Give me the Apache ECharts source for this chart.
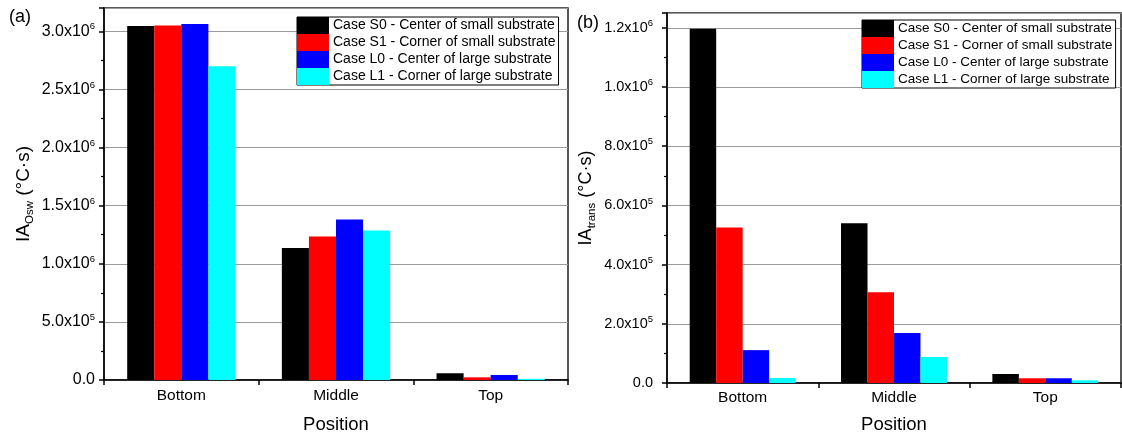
<!DOCTYPE html>
<html>
<head>
<meta charset="utf-8">
<script src="https://cdn.jsdelivr.net/npm/echarts@6/dist/echarts.min.js"></script>
<style>
html,body{margin:0;padding:0;background:#fff;}
#chart{width:1122px;height:434px;}
</style>
</head>
<body>
<div id="chart"></div>
<script>
// ---- data ----
const positions = ['Bottom', 'Middle', 'Top'];
const seriesNames = [
  'Case S0 - Center of small substrate',
  'Case S1 - Corner of small substrate',
  'Case L0 - Center of large substrate',
  'Case L1 - Corner of large substrate'
];
// panel (a) IA_Osw (°C·s)
const iaOswS0 = [3.045e6, 1.135e6, 5.8e4];
const iaOswS1 = [3.050e6, 1.235e6, 2.3e4];
const iaOswL0 = [3.063e6, 1.380e6, 4.3e4];
const iaOswL1 = [2.700e6, 1.285e6, 1.0e4];
// panel (b) IA_trans (°C·s)
const iaTransS0 = [1.197e6, 5.40e5, 3.05e4];
const iaTransS1 = [5.25e5, 3.07e5, 1.6e4];
const iaTransL0 = [1.11e5, 1.69e5, 1.6e4];
const iaTransL1 = [1.7e4, 8.8e4, 9.0e3];
const panelLabels = ['(a)', '(b)'];
const yNames = [['IA', 'Osw'], ['IA', 'trans']];
const unitText = ' (°C·s)';

const colors = ['#000000', '#ff0000', '#0000ff', '#00ffff'];
const FONT = 'Liberation Sans, Arial, sans-serif';

function sciLabel(interval) {
  return function (v) {
    if (Math.abs(v / interval - Math.round(v / interval)) > 1e-6) return '';
    if (v === 0) return '{m|0.0}';
    const e = Math.floor(Math.log10(v) + 1e-9);
    const m = (v / Math.pow(10, e)).toFixed(1);
    return '{m|' + m + 'x10}{s|' + e + '}';
  };
}

const chart = echarts.init(document.getElementById('chart'), null, {renderer: 'canvas'});

const grids = [
  {left: 104, top: 8, width: 464, height: 372},
  {left: 667, top: 13, width: 454, height: 370}
];
const yMax = [3.2e6, 1.25e6];
const yInt = [5e5, 2e5];
const tickFont = [16, 14.5];
const tickMargin = [9, 14];
const nameFont = [19, 18];
const xNameGap = [35, 32];
const xLabelMargin = [8, 7];

const xAxes = grids.map((g, i) => ({
  type: 'category', gridIndex: i, data: positions,
  name: 'Position', nameLocation: 'middle', nameGap: xNameGap[i],
  nameTextStyle: {fontFamily: FONT, fontSize: 18.5, color: '#000'},
  axisLine: {lineStyle: {color: '#000', width: 1.5}},
  axisTick: {show: true, length: 5, lineStyle: {color: '#000', width: 1.5}},
  axisLabel: {fontFamily: FONT, fontSize: 15.5, color: '#000', margin: xLabelMargin[i]},
  splitLine: {show: false}
}));

const yAxes = grids.map((g, i) => ({
  type: 'value', gridIndex: i, min: 0, max: yMax[i], interval: yInt[i],
  name: '{a|' + yNames[i][0] + '}{b|' + yNames[i][1] + '}{a|' + unitText + '}',
  nameLocation: 'middle', nameGap: i === 0 ? 68 : 69, nameRotate: 90,
  nameTextStyle: {
    rich: {
      a: {fontFamily: FONT, fontSize: nameFont[i], color: '#000', lineHeight: 24},
      b: {fontFamily: FONT, fontSize: 11.5, color: '#000', verticalAlign: 'bottom', lineHeight: 14}
    }
  },
  axisLine: {show: true, lineStyle: {color: '#000', width: 1.5}},
  axisTick: {show: true, length: 5, lineStyle: {color: '#000', width: 1.5}},
  minorTick: {show: true, splitNumber: 2, length: 3, lineStyle: {color: '#000', width: 1.2}},
  axisLabel: {
    margin: tickMargin[i],
    formatter: sciLabel(yInt[i]),
    rich: {
      m: {fontFamily: FONT, fontSize: tickFont[i], color: '#000', lineHeight: 19},
      s: {fontFamily: FONT, fontSize: 9.5, color: '#000', verticalAlign: 'top', lineHeight: 10}
    }
  },
  splitLine: {show: true, lineStyle: {color: '#9a9a9a', width: 1}}
}));

const dataA = [iaOswS0, iaOswS1, iaOswL0, iaOswL1];
const dataB = [iaTransS0, iaTransS1, iaTransL0, iaTransL1];
const series = [];
[dataA, dataB].forEach((set, gi) => {
  set.forEach((vals, si) => {
    series.push({
      type: 'bar', name: seriesNames[si], xAxisIndex: gi, yAxisIndex: gi,
      data: vals, barGap: '0%', barCategoryGap: '30%',
      itemStyle: {color: colors[si]}, silent: true
    });
  });
});

function legendFor(left, top, fs) {
  return {
    orient: 'vertical', itemWidth: 32, itemHeight: 17, itemGap: 0,
    icon: 'rect', backgroundColor: '#fff', borderColor: '#000', borderWidth: 1,
    padding: [0, 3, 0, 0], selectedMode: false,
    left: left, top: top,
    textStyle: {fontFamily: FONT, fontSize: fs, color: '#000', padding: [0, 0, 0, -1], lineHeight: 17},
    data: seriesNames
  };
}

chart.setOption({
  animation: false,
  backgroundColor: '#fff',
  color: colors,
  title: [
    {text: panelLabels[0], left: 4, top: 3, textStyle: {fontFamily: FONT, fontSize: 18, fontWeight: 'normal', color: '#000'}},
    {text: panelLabels[1], left: 572, top: 9, textStyle: {fontFamily: FONT, fontSize: 18, fontWeight: 'normal', color: '#000'}}
  ],
  grid: grids.map(g => Object.assign({
    show: true, borderColor: '#222', borderWidth: 1.5, backgroundColor: 'transparent',
    containLabel: false, outerBoundsMode: 'none'
  }, g)),
  xAxis: xAxes,
  yAxis: yAxes,
  legend: [legendFor(297, 17, 14), legendFor(862, 20, 13.5)],
  series: series
});
</script>
</body>
</html>
